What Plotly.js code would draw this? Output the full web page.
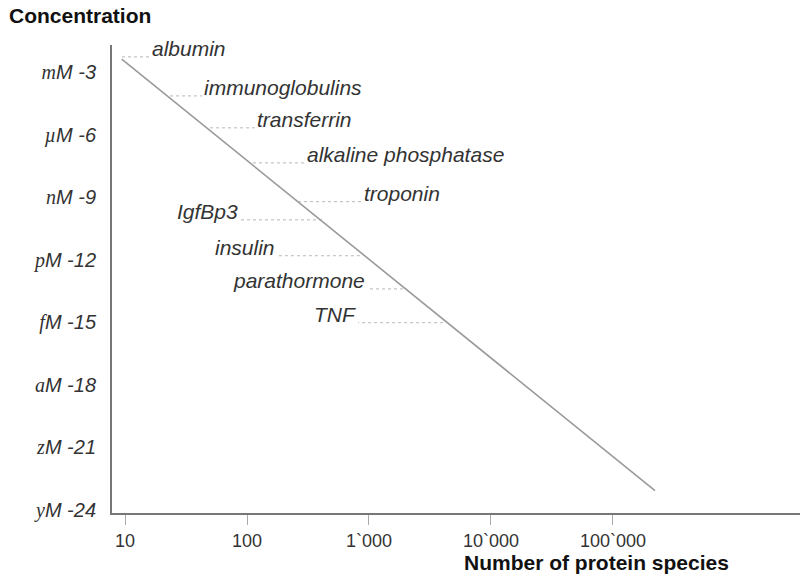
<!DOCTYPE html>
<html>
<head>
<meta charset="utf-8">
<script src="https://cdn.plot.ly/plotly-3.0.1.min.js"></script>
<style>html,body{margin:0;padding:0;background:#fff;}#chart{width:800px;height:587px;}</style>
</head>
<body>
<div id="chart"></div>
<script>
// Diagonal: number of protein species vs concentration (log10 M)
const lineSpecies = [9.4, 221000];
const lineConc = [-2.39, -23.07];

// Proteins marked on the diagonal
const proteins = ["albumin", "immunoglobulins", "transferrin", "alkaline phosphatase", "troponin", "IgfBp3", "insulin", "parathormone", "TNF"];
const proteinConc = [-2.28, -4.15, -5.68, -7.36, -9.22, -10.09, -11.81, -13.40, -15.02];
const diagX = [9.45, 23.4, 49.8, 112, 262, 412, 843, 1900, 4050];
const labelX = [16.0, 42.8, 116, 299, 877, 87.7, 176, 964, 813];
const labelSide = ["right", "right", "right", "right", "right", "left", "left", "left", "left"];

// Axis ticks
const xTickVals = [10, 100, 1000, 10000, 100000];
const xTickText = ["10", "100", "1`000", "10`000", "100`000"];
const yTickVals = [-3, -6, -9, -12, -15, -18, -21, -24];
const yPrefixes = ["m", "µ", "n", "p", "f", "a", "z", "y"];

const serif = "font-family:Liberation Serif, Times New Roman, serif";
const yTickText = yTickVals.map((v, i) => `<span style="${serif}">${yPrefixes[i]}</span>M ${v}`);

const traces = [];
proteins.forEach((p, i) => {
  traces.push({
    x: [diagX[i], labelX[i]],
    y: [proteinConc[i], proteinConc[i]],
    mode: "lines",
    line: {color: "#b8b8b8", width: 1, dash: "dot"},
    hoverinfo: "skip",
    showlegend: false
  });
});
traces.push({
  x: lineSpecies,
  y: lineConc,
  mode: "lines",
  line: {color: "#9a9a9a", width: 1.6},
  hoverinfo: "skip",
  showlegend: false
});

const annotations = proteins.map((p, i) => ({
  x: Math.log10(labelX[i]),
  y: proteinConc[i],
  xref: "x", yref: "y",
  text: p,
  showarrow: false,
  xanchor: labelSide[i] === "right" ? "left" : "right",
  yanchor: "bottom",
  yshift: -5,
  font: {family: "Liberation Sans, Arial, sans-serif", size: 21, color: "#333", style: "italic"}
}));
annotations.push({
  x: 0.5087, y: -0.1068, xref: "paper", yref: "paper",
  text: "<b>Number of protein species</b>",
  showarrow: false, xanchor: "left", yanchor: "middle",
  font: {family: "Liberation Sans, Arial, sans-serif", size: 21, color: "#111"}
});

const layout = {
  width: 800, height: 587,
  margin: {l: 112, r: 0, t: 45, b: 74},
  paper_bgcolor: "#fff", plot_bgcolor: "#fff",
  showlegend: false,
  title: {
    text: "<b>Concentration</b>",
    x: 9 / 800, xref: "container", xanchor: "left",
    y: 1 - 16 / 587, yref: "container", yanchor: "middle",
    font: {family: "Liberation Sans, Arial, sans-serif", size: 21, color: "#111"}
  },
  xaxis: {
    type: "log",
    range: [0.8934, 6.533],
    showgrid: false, zeroline: false,
    showline: true, linecolor: "#777", linewidth: 2,
    ticks: "outside", ticklen: 10, tickwidth: 1, tickcolor: "#aaa",
    tickvals: xTickVals, ticktext: xTickText,
    tickfont: {family: "Liberation Sans, Arial, sans-serif", size: 18, color: "#333"}
  },
  yaxis: {
    range: [-24.14, -1.71],
    showgrid: false, zeroline: false,
    showline: true, linecolor: "#777", linewidth: 2,
    ticks: "outside", ticklen: 10, tickcolor: "rgba(0,0,0,0)",
    tickvals: yTickVals, ticktext: yTickText,
    tickfont: {family: "Liberation Sans, Arial, sans-serif", size: 20, color: "#333", style: "italic"}
  },
  annotations: annotations
};

Plotly.newPlot("chart", traces, layout, {displayModeBar: false, staticPlot: true});
</script>
</body>
</html>
